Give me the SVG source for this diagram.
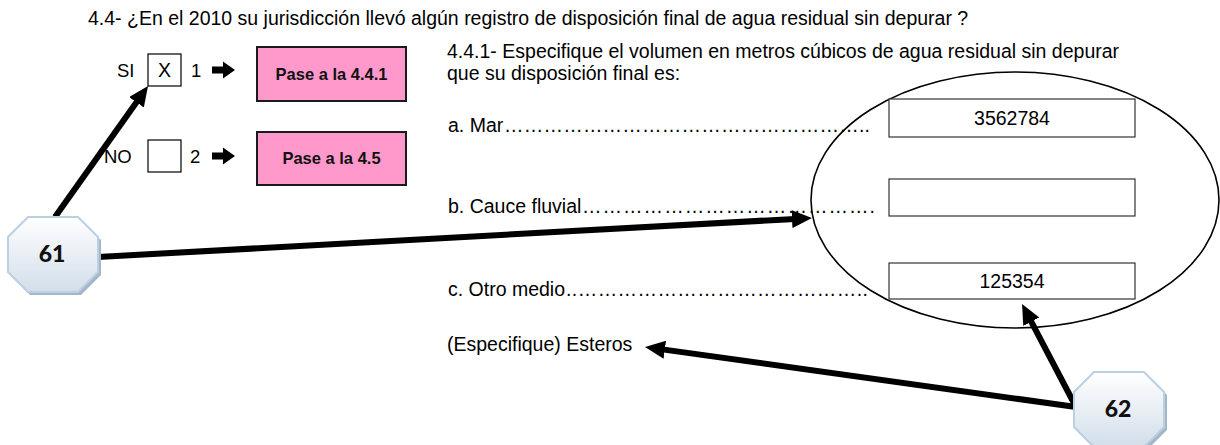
<svg xmlns="http://www.w3.org/2000/svg" width="1220" height="445" viewBox="0 0 1220 445">
<style>
.t{font-family:"Liberation Sans",Arial,sans-serif;font-size:19.5px;fill:#000}
.lb{font-family:"Liberation Sans",Arial,sans-serif;font-size:18.5px;fill:#000}
.pk{fill:#ff99cc;stroke:#1a1a1a;stroke-width:2}
.pt{font-family:"Liberation Sans",Arial,sans-serif;font-size:16.5px;font-weight:bold;fill:#111;text-anchor:middle}
.cb{fill:#fff;stroke:#000;stroke-width:1.2}
.vb{fill:#fff;stroke:#333;stroke-width:1.2}
.vt{font-family:"Liberation Sans",Arial,sans-serif;font-size:19.5px;fill:#000;text-anchor:middle}
.oc{fill:url(#og);stroke:#bcd0e3;stroke-width:2}
.os{fill:#a5b6c9}
.on{font-family:Lato,"DejaVu Sans",sans-serif;font-size:23px;font-weight:900;fill:#111;text-anchor:middle}
.cn{fill:none;stroke:#000;stroke-width:6;marker-end:url(#ah)}
</style>
<defs>
<linearGradient id="og" x1="0" y1="0" x2="0" y2="1">
<stop offset="0" stop-color="#ffffff"/>
<stop offset="1" stop-color="#d2deea"/>
</linearGradient>
<marker id="ah" markerUnits="userSpaceOnUse" viewBox="0 0 20 18" markerWidth="20" markerHeight="18" refX="8" refY="9" orient="auto">
<path d="M0,0 L20,9 L0,18 Z" fill="#000"/>
</marker>
<path id="harrow" d="M0,-3.5 L11,-3.5 L11,-8.5 L23,0 L11,8.5 L11,3.5 L0,3.5 Z" fill="#000"/>
</defs>

<g id="question">
<text class="t" x="88" y="25">4.4- ¿En el 2010 su jurisdicción llevó algún registro de disposición final de agua residual sin depurar ?</text>
</g>

<g id="opt-si">
<text class="lb" x="117" y="77">SI</text>
<rect class="cb" x="148" y="54" width="33" height="32"/>
<text class="vt" x="164.5" y="77">X</text>
<text class="lb" x="191" y="77">1</text>
<use href="#harrow" x="212" y="70"/>
</g>
<g id="pase-441">
<rect class="pk" x="257" y="47" width="149" height="54"/>
<text class="pt" x="331.5" y="80">Pase a la 4.4.1</text>
</g>

<g id="opt-no">
<text class="lb" x="104" y="163">NO</text>
<rect class="cb" x="148" y="140" width="33" height="32"/>
<text class="lb" x="190" y="163">2</text>
<use href="#harrow" x="212" y="156"/>
</g>
<g id="pase-45">
<rect class="pk" x="257" y="132" width="149" height="53"/>
<text class="pt" x="331.5" y="164">Pase a la 4.5</text>
</g>

<g id="q441">
<text class="t" x="447" y="58">4.4.1- Especifique el volumen en metros cúbicos de agua residual sin depurar</text>
<text class="t" x="447" y="80">que su disposición final es:</text>
<text class="t" x="448" y="132">a. Mar</text>
<text class="t" x="504" y="132" textLength="366" lengthAdjust="spacing">………………………………………………..</text>
<text class="t" x="448" y="213">b. Cauce fluvial</text>
<text class="t" x="582" y="213" textLength="293" lengthAdjust="spacing">&#8230;&#8230;&#8230;&#8230;&#8230;&#8230;&#8230;&#8230;&#8230;&#8230;&#8230;&#8230;&#8230;&#8230;.</text>
<text class="t" x="448" y="296">c. Otro medio</text>
<text class="t" x="566" y="296" textLength="302" lengthAdjust="spacing">..&#8230;&#8230;&#8230;&#8230;&#8230;&#8230;&#8230;&#8230;&#8230;&#8230;&#8230;&#8230;&#8230;&#8230;..</text>
<text class="t" x="447" y="351">(Especifique) Esteros</text>
</g>

<g id="values">
<ellipse cx="1015" cy="200" rx="204" ry="128" fill="none" stroke="#000" stroke-width="1.6"/>
<rect class="vb" x="889" y="99" width="246" height="38"/>
<text class="vt" x="1012" y="125">3562784</text>
<rect class="vb" x="889" y="179" width="246" height="37"/>
<rect class="vb" x="889" y="263" width="246" height="36"/>
<text class="vt" x="1012" y="288">125354</text>
</g>

<g id="connectors">
<path class="cn" d="M55,217 L141.1,95.8"/>
<path class="cn" d="M98,257 L800,218.66"/>
<path class="cn" d="M1076,407 L1027.57,314.63"/>
<path class="cn" d="M1076,407 L656.9,348.65"/>
</g>

<g id="node-61">
<polygon class="os" points="30,220 80,220 101,240 101,275 81,295 30,295 10,275 10,240"/>
<polygon class="oc" points="28,217 78,217 98,237 98,272 78,292 28,292 8,272 8,237"/>
<text class="on" x="52" y="262">61</text>
</g>

<g id="node-62">
<polygon class="os" points="1096,375 1146,375 1167,395 1167,430 1147,450 1096,450 1076,430 1076,395"/>
<polygon class="oc" points="1094,372 1144,372 1164,392 1164,427 1144,447 1094,447 1074,427 1074,392"/>
<text class="on" x="1118" y="417">62</text>
</g>
</svg>
